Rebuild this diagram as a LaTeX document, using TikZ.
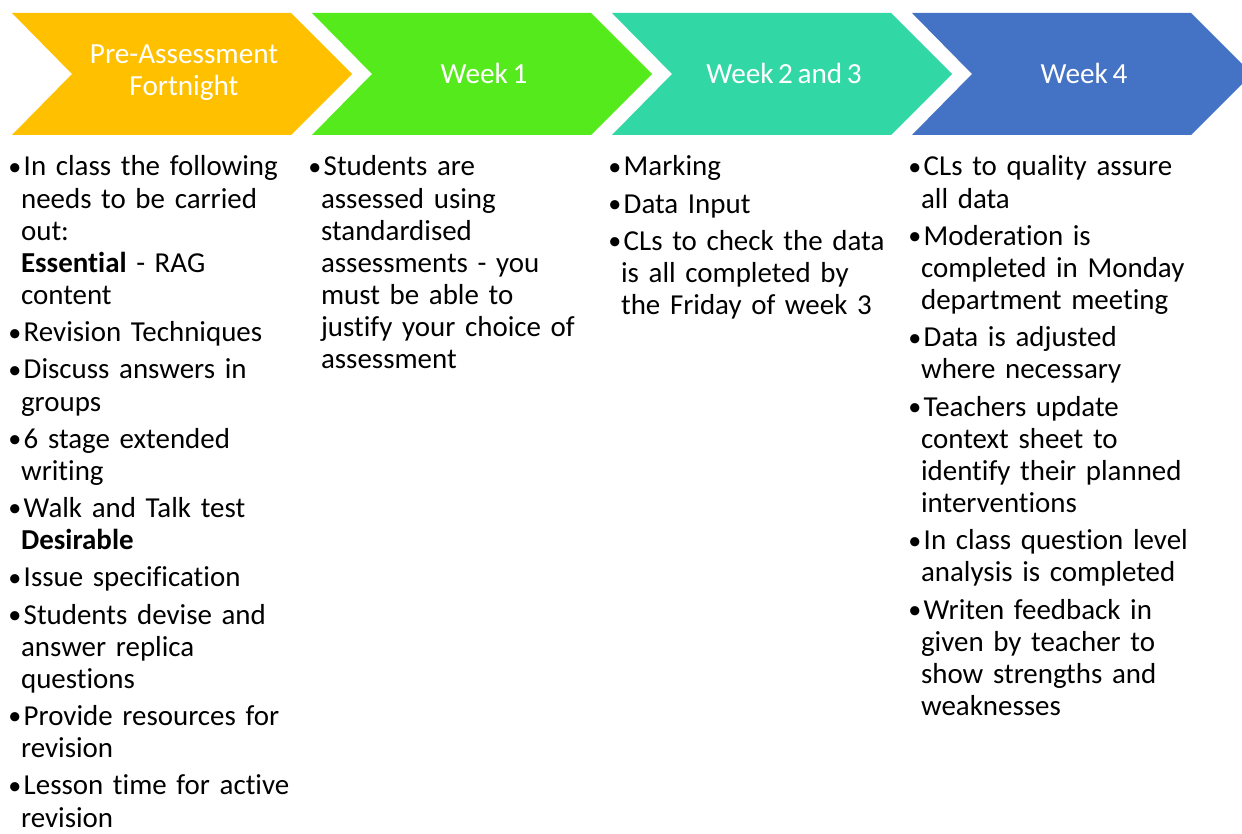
\documentclass[tikz,border=0pt]{standalone}
\usepackage{fontspec}
\setmainfont{Carlito}[Ligatures=CommonOff,WordSpace=0.7]
\usepackage{xcolor}
\usetikzlibrary{positioning}

\definecolor{fortnight}{HTML}{FFC000}
\definecolor{weekone}{HTML}{55EA1B}
\definecolor{weektwo}{HTML}{31D8A5}
\definecolor{weekfour}{HTML}{4472C4}

% one bullet point with hanging indent
\newcommand{\bul}[1]{\hangindent=9.6pt\hangafter=1\noindent\makebox[11.6pt][l]{\raisebox{0.5pt}{\scalebox{0.9}{\textbullet}}}#1\par}

\begin{document}
\begin{tikzpicture}[x=0.75pt,y=-0.75pt,
    head/.style={text=white,align=center,inner sep=0pt,
      font=\fontsize{21.9pt}{24pt}\selectfont},
    col/.style={anchor=base west,inner sep=0pt,text width=222pt,align=left,
      font=\fontsize{21.7pt}{24.1pt}\selectfont\setlength{\parskip}{3.8pt}}]
      \clip (0,0) rectangle (1242,834);
      % chevrons
      \fill[fortnight] (12,13) -- (291,13) -- (352,74) -- (291,135) -- (12,135) -- (72,74) -- cycle;
      \fill[weekone] (312,13) -- (591,13) -- (652,74) -- (591,135) -- (312,135) -- (372,74) -- cycle;
      \fill[weektwo] (612,13) -- (891,13) -- (952,74) -- (891,135) -- (612,135) -- (672,74) -- cycle;
      \fill[weekfour] (912,13) -- (1191,13) -- (1252,74) -- (1191,135) -- (912,135) -- (972,74) -- cycle;
      \node[head] (pre) at (184, 73) {Pre-Assessment\\Fortnight};
      \node[head] (wk1) at (484, 73) {Week 1};
      \node[head] (wk23) at (784, 73) {Week 2 and 3};
      \node[head] (wk4) at (1084, 73) {Week 4};
      % lists
      \node[col] (prelist) at (8, 176) {%
        \bul{In class the following\newline needs to be carried\newline out:\newline
          \textbf{Essential} - RAG\newline content}%
        \bul{Revision Techniques}%
        \bul{Discuss answers in\newline groups}%
        \bul{6 stage extended\newline writing}%
        \bul{Walk and Talk test\newline \textbf{Desirable}}%
        \bul{Issue specification}%
        \bul{Students devise and\newline answer replica\newline questions}%
        \bul{Provide resources for\newline revision}%
        \bul{Lesson time for active\newline revision}};
      \node[col] (wk1list) at (308, 176) {%
        \bul{Students are\newline assessed using\newline standardised\newline
          assessments - you\newline must be able to\newline justify your choice of\newline assessment}};
      \node[col] (wk23list) at (608, 176) {%
        \bul{Marking}%
        \bul{Data Input}%
        \bul{CLs to check the data\newline is all completed by\newline the Friday of week 3}};
      \node[col] (wk4list) at (908, 176) {%
        \bul{CLs to quality assure\newline all data}%
        \bul{Moderation is\newline completed in Monday\newline department meeting}%
        \bul{Data is adjusted\newline where necessary}%
        \bul{Teachers update\newline context sheet to\newline identify their planned\newline interventions}%
        \bul{In class question level\newline analysis is completed}%
        \bul{Writen feedback in\newline given by teacher to\newline show strengths and\newline weaknesses}};
    \end{tikzpicture}
\end{document}
